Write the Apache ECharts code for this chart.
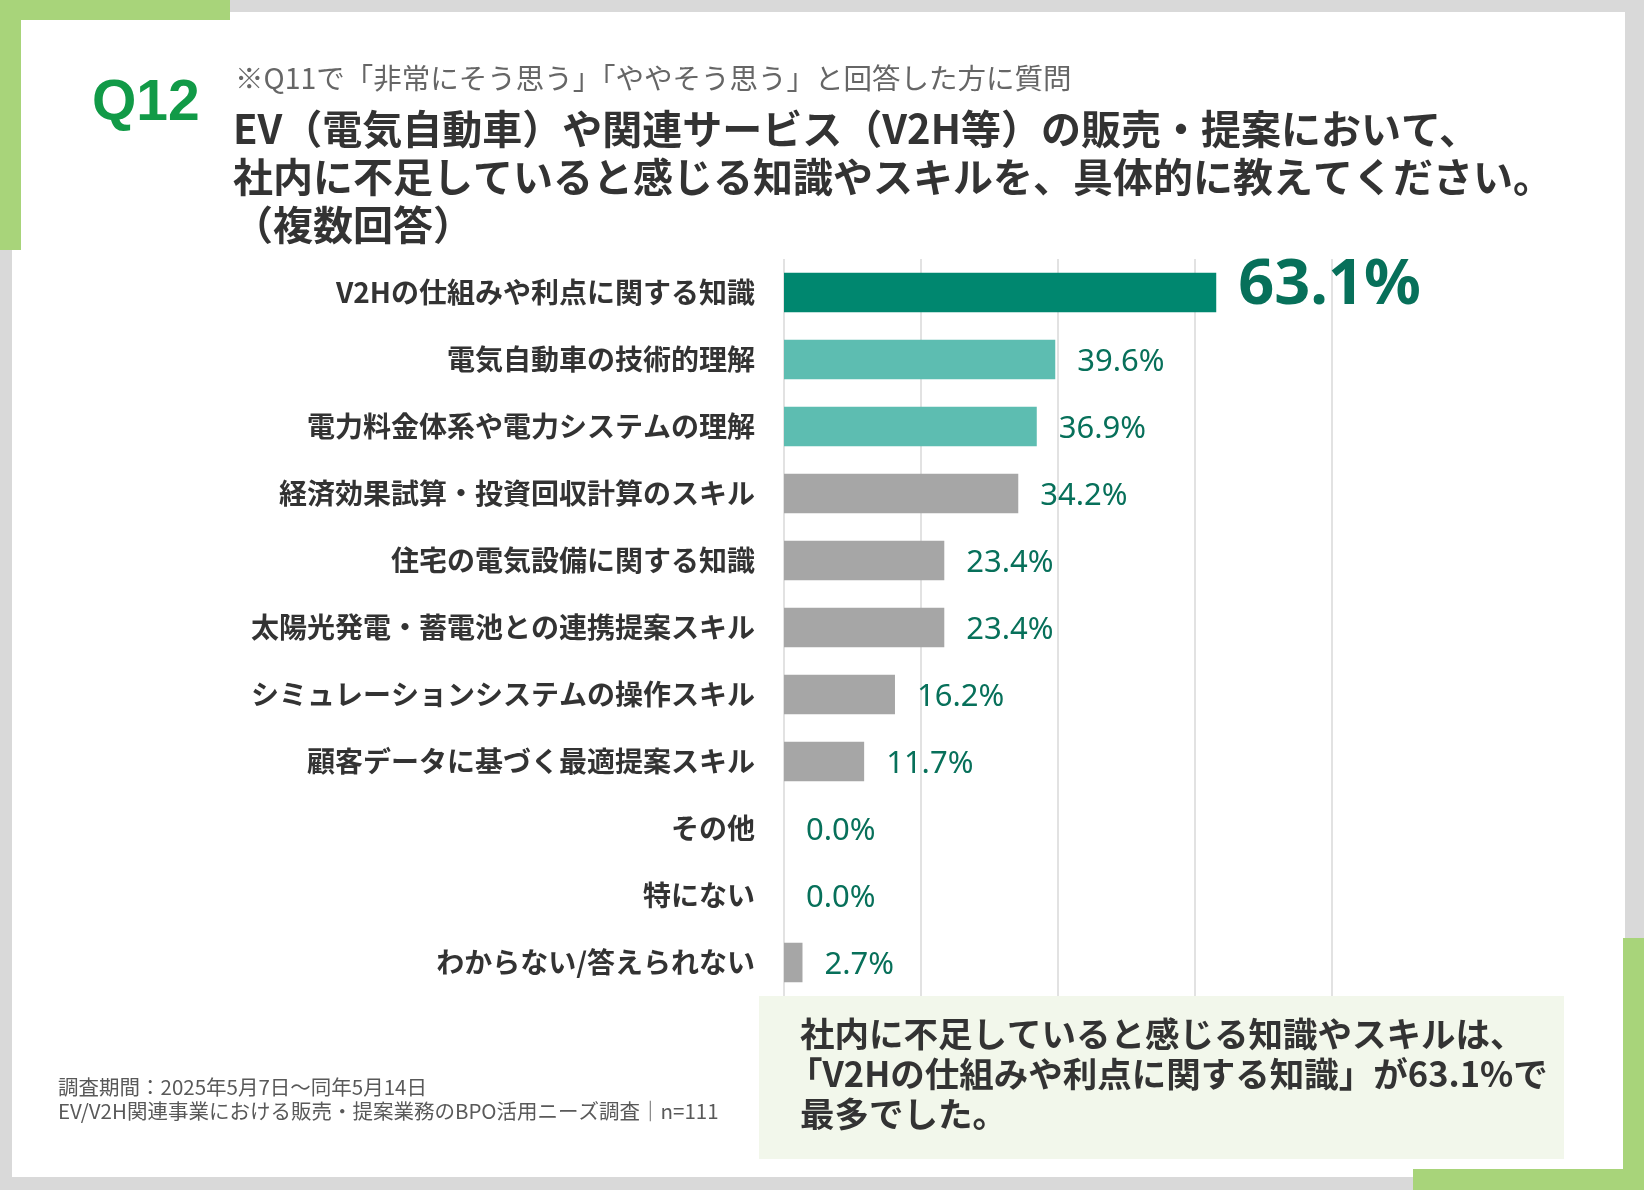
<!DOCTYPE html>
<html lang="ja">
<head>
<meta charset="utf-8">
<title>Q12</title>
<script src="https://cdn.jsdelivr.net/npm/echarts@6/dist/echarts.min.js"></script>
<style>
  html, body { margin: 0; padding: 0; background: #d9d9d9; }
  #chart { width: 1644px; height: 1190px; }
</style>
</head>
<body>
<div id="chart"></div>
<script>
// survey answers, top to bottom
const categories = [
  'V2Hの仕組みや利点に関する知識',
  '電気自動車の技術的理解',
  '電力料金体系や電力システムの理解',
  '経済効果試算・投資回収計算のスキル',
  '住宅の電気設備に関する知識',
  '太陽光発電・蓄電池との連携提案スキル',
  'シミュレーションシステムの操作スキル',
  '顧客データに基づく最適提案スキル',
  'その他',
  '特にない',
  'わからない/答えられない'
];
const values = [63.1, 39.6, 36.9, 34.2, 23.4, 23.4, 16.2, 11.7, 0.0, 0.0, 2.7];

// x axis ticks (percent)
const axisMin = 0;
const axisMax = 80;
const axisStep = 20;

// texts
const questionNo = 'Q12';
const subNote = '※Q11で「非常にそう思う」「ややそう思う」と回答した方に質問';
const titleLines = [
  'EV（電気自動車）や関連サービス（V2H等）の販売・提案において、',
  '社内に不足していると感じる知識やスキルを、具体的に教えてください。',
  '（複数回答）'
];
const summaryLines = [
  '社内に不足していると感じる知識やスキルは、',
  '「V2Hの仕組みや利点に関する知識」が63.1%で',
  '最多でした。'
];
const sourceLines = [
  '調査期間：2025年5月7日～同年5月14日',
  'EV/V2H関連事業における販売・提案業務のBPO活用ニーズ調査｜n=111'
];

const JP = '"Noto Sans CJK JP", "Noto Sans", sans-serif';
const NUM = '"Noto Sans", "Open Sans", sans-serif';

function barColor(i) {
  if (i === 0) return '#00876f';
  if (i <= 2) return '#5dbdb1';
  return '#a6a6a6';
}

const seriesData = values.map((v, i) => {
  const item = { value: v, itemStyle: { color: barColor(i) } };
  if (i === 0) {
    item.label = { fontSize: 63, fontWeight: 'bold', fontFamily: NUM, offset: [0, -6] };
  }
  return item;
});

const chart = echarts.init(document.getElementById('chart'));

const graphics = [
  // white card + green corner accents
  { type: 'rect', shape: { x: 12, y: 12, width: 1613, height: 1165 }, style: { fill: '#ffffff' }, z: -10 },
  { type: 'rect', shape: { x: 0, y: 0, width: 230, height: 20 }, style: { fill: '#a8d47a' }, z: -5 },
  { type: 'rect', shape: { x: 0, y: 0, width: 21, height: 250 }, style: { fill: '#a8d47a' }, z: -5 },
  { type: 'rect', shape: { x: 1623, y: 938, width: 21, height: 252 }, style: { fill: '#a8d47a' }, z: -5 },
  { type: 'rect', shape: { x: 1413, y: 1169, width: 231, height: 21 }, style: { fill: '#a8d47a' }, z: -5 },
  // summary box
  { type: 'rect', shape: { x: 759, y: 996, width: 805, height: 163 }, style: { fill: '#f2f7eb' }, z: -5 },
  {
    type: 'text', left: 92, top: 76,
    style: { text: questionNo, fill: '#119a47', font: 'bold 57px "Liberation Sans", Arial, sans-serif' }
  },
  {
    type: 'text', left: 235, top: 64,
    style: { text: subNote, fill: '#666666', font: '28.5px ' + JP }
  }
];

titleLines.forEach((t, i) => {
  graphics.push({
    type: 'text', left: 233, top: 109 + i * 48,
    style: { text: t, fill: '#333333', font: 'bold 40px ' + JP }
  });
});

summaryLines.forEach((t, i) => {
  // a line opening with a bracket hangs a little to the left
  const hang = t.startsWith('「') ? 12 : 0;
  graphics.push({
    type: 'text', left: 800 - hang, top: 1017 + i * 40,
    style: { text: t, fill: '#333333', font: 'bold 34.5px ' + JP }
  });
});

sourceLines.forEach((t, i) => {
  graphics.push({
    type: 'text', left: 58, top: 1077 + i * 24,
    style: { text: t, fill: '#595959', font: '20.5px ' + JP }
  });
});

const option = {
  backgroundColor: 'transparent',
  animation: false,
  graphic: graphics,
  grid: { left: 784, top: 259, right: 312, bottom: 194, containLabel: false },
  xAxis: {
    type: 'value',
    min: axisMin,
    max: axisMax,
    interval: axisStep,
    axisLabel: { show: false },
    axisLine: { show: false },
    axisTick: { show: false },
    splitLine: { show: true, lineStyle: { color: '#d9d9d9', width: 1.5 } }
  },
  yAxis: {
    type: 'category',
    inverse: true,
    data: categories,
    axisLine: { show: false },
    axisTick: { show: false },
    axisLabel: {
      margin: 29,
      color: '#333333',
      fontSize: 28,
      fontWeight: 'bold',
      fontFamily: JP
    }
  },
  series: [
    {
      type: 'bar',
      barWidth: '59%',
      data: seriesData,
      label: {
        show: true,
        position: 'right',
        distance: 22,
        color: '#07705a',
        fontSize: 31,
        fontFamily: NUM,
        offset: [0, 3],
        formatter: p => p.value.toFixed(1) + '%'
      }
    }
  ]
};

chart.setOption(option);
window.addEventListener('resize', () => chart.resize());
</script>
</body>
</html>
